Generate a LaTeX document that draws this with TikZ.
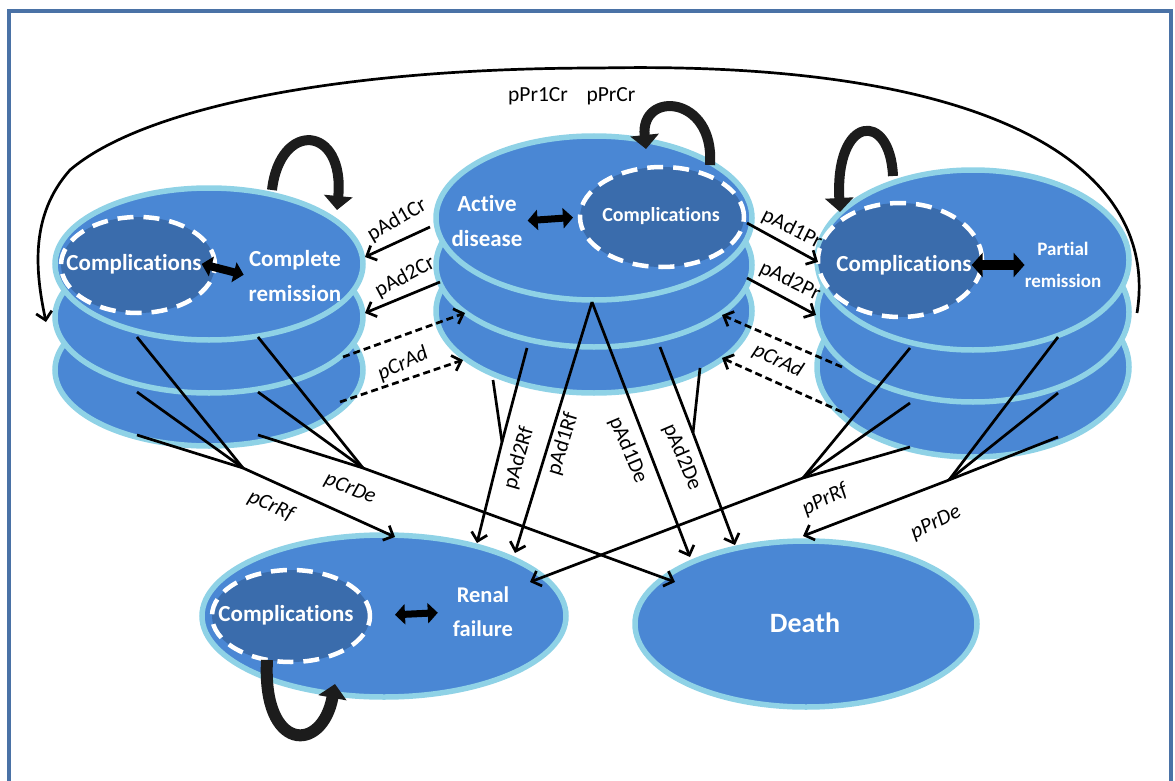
\documentclass[tikz,border=0pt]{standalone}
\usepackage{fontspec}
\setmainfont{Carlito}[Ligatures=NoCommon]
\usetikzlibrary{arrows.meta,shapes.geometric}

\definecolor{framec}{HTML}{4A72A6}
\definecolor{disk}{HTML}{4A87D4}
\definecolor{rim}{HTML}{8FD2E6}
\definecolor{compc}{HTML}{3A6CAC}
\definecolor{loopc}{HTML}{1C1C1C}

\tikzset{
  disklayer/.style={ellipse, draw=rim, fill=disk, line width=5.5pt, inner sep=0pt, outer sep=0pt},
  compl/.style={ellipse, draw=white, fill=compc, line width=4.5pt, dash pattern=on 16pt off 10pt, inner sep=0pt, outer sep=0pt},
  wtxt/.style={text=white, font=\bfseries\fontsize{23}{35}\selectfont, align=center, inner sep=0pt},
  twoway/.style={draw=black, line width=8pt, {Triangle[length=10pt,width=20pt]}-{Triangle[length=10pt,width=20pt]}},
  selfloop/.style={draw=loopc, line width=10pt, -{Triangle[length=14pt,width=28pt]}},
  flow/.style={draw=black, line width=2.7pt, -{Straight Barb[length=8pt,width=16pt]}},
  feed/.style={draw=black, line width=2.7pt},
  retflow/.style={draw=black, line width=2.7pt, dash pattern=on 7pt off 4pt, -{Straight Barb[length=8pt,width=16pt]}},
  lab/.style={font=\fontsize{21.5}{21.5}\selectfont, inner sep=0pt},
  labi/.style={font=\itshape\fontsize{21.5}{21.5}\selectfont, inner sep=0pt},
}

\begin{document}
\begin{tikzpicture}[x=1pt,y=-1pt]
\useasboundingbox (0,0) rectangle (1175,781);

% outer frame
\draw[framec, line width=3.5pt] (9,781) -- (9,11) -- (1171,11) -- (1171,781);

% ---------- Complete remission stack ----------
\node[disklayer, minimum width=308pt, minimum height=152pt] (cr3) at (209,370) {};
\node[disklayer, minimum width=308pt, minimum height=152pt] (cr2) at (209,317) {};
\node[disklayer, minimum width=308pt, minimum height=152pt] (cr1) at (209,264) {};
\node[compl, minimum width=154pt, minimum height=96pt] (crc) at (138,265) {};
\node[wtxt] (crctxt) at (134,264) {Complications};
\node[wtxt] (crtxt) at (295,276) {Complete\\remission};
\draw[twoway, shorten >=5pt] (crctxt.east) -- (crtxt.west);

% ---------- Active disease stack ----------
\node[disklayer, minimum width=316pt, minimum height=164pt] (ad3) at (594,311) {};
\node[disklayer, minimum width=316pt, minimum height=164pt] (ad2) at (594,265) {};
\node[disklayer, minimum width=316pt, minimum height=164pt] (ad1) at (594,218) {};
\node[compl, minimum width=164pt, minimum height=100pt] (adc) at (662,217) {};
\node[wtxt, font=\bfseries\fontsize{20}{20}\selectfont] (adctxt) at (661,216) {Complications};
\node[wtxt] (adtxt) at (487,221) {Active\\disease};
\draw[twoway, line width=7pt, shorten <=5pt, shorten >=7pt] (adtxt.east) -- (adc.west);

% ---------- Partial remission stack ----------
\node[disklayer, minimum width=312pt, minimum height=180pt] (pr3) at (973,367) {};
\node[disklayer, minimum width=312pt, minimum height=180pt] (pr2) at (973,312) {};
\node[disklayer, minimum width=312pt, minimum height=180pt] (pr1) at (973,260) {};
\node[compl, minimum width=164pt, minimum height=114pt] (prc) at (900,260) {};
\node[wtxt] (prctxt) at (904,265) {Complications};
\node[wtxt, font=\bfseries\fontsize{19}{32}\selectfont] (prtxt) at (1063,265) {Partial\\remission};
\draw[twoway, line width=10pt, {Triangle[length=11pt,width=24pt]}-{Triangle[length=11pt,width=24pt]}] (prctxt.east) -- (prtxt.west);

% ---------- Renal failure ----------
\node[disklayer, minimum width=364pt, minimum height=162pt] (rf) at (384,616) {};
\node[compl, minimum width=158pt, minimum height=92pt] (rfc) at (291,616) {};
\node[wtxt] (rfctxt) at (286,615) {Complications};
\node[wtxt, font=\bfseries\fontsize{22.5}{34}\selectfont] (rftxt) at (483,612) {Renal\\failure};
\draw[twoway, line width=7pt, shorten <=25pt, shorten >=15pt] (rfc.east) -- (rftxt.west);

% ---------- Death ----------
\node[disklayer, minimum width=342pt, minimum height=166pt] (de) at (806,624) {};
\node[wtxt, font=\bfseries\fontsize{28}{28}\selectfont] (detxt) at (805,623) {Death};

% ---------- self loops ----------
\coordinate (crL0) at (272,190);  \coordinate (crL1) at (337,210);
\coordinate (adL0) at (710,165);  \coordinate (adL1) at (646,149);
\coordinate (prL0) at (893,176);  \coordinate (prL1) at (840,212);
\coordinate (rfL0) at (267,660);  \coordinate (rfL1) at (335,684);
\draw[selfloop] (crL0) .. controls (280,120) and (345,125) .. (crL1);
\draw[selfloop] (adL0) .. controls (715,95) and (640,90) .. (adL1);
\draw[selfloop] (prL0) .. controls (890,110) and (835,115) .. (prL1);
\draw[selfloop, line width=12pt] (rfL0) .. controls (262,752) and (322,754) .. (rfL1);

% ---------- long return arc Partial remission -> Complete remission ----------
\coordinate (prArc) at (1137,313);
\coordinate (crArc) at (46,322);
\draw[flow] (prArc) .. controls (1160,170) and (1000,60) .. (600,68)
  .. controls (330,68) and (140,110) .. (70,170)
  .. controls (30,215) and (35,270) .. (crArc);
\node[lab] (lPr1Cr) at (538,96) {pPr1Cr};
\node[lab] (lPrCr) at (611,96) {pPrCr};

% ---------- Active disease -> Complete remission ----------
\coordinate (adS1) at (430,227); \coordinate (crT1) at (365,257);
\coordinate (adS2) at (440,282); \coordinate (crT2) at (365,313);
\draw[flow] (adS1) -- (crT1);
\draw[flow] (adS2) -- (crT2);
\node[lab, rotate=30] (lAd1Cr) at (397,220) {pAd1Cr};
\node[lab, rotate=28] (lAd2Cr) at (405,277) {pAd2Cr};

% ---------- Complete remission -> Active disease (dashed) ----------
\coordinate (crD1) at (343,357); \coordinate (adT1) at (465,313);
\coordinate (crD2) at (340,402); \coordinate (adT2) at (463,360);
\draw[retflow] (crD1) -- (adT1);
\draw[retflow] (crD2) -- (adT2);
\node[labi, rotate=25] (lCrAdL) at (403,364) {pCrAd};

% ---------- Active disease -> Partial remission ----------
\coordinate (adS3) at (747,223); \coordinate (prT1) at (818,262);
\coordinate (adS4) at (747,278); \coordinate (prT2) at (816,315);
\draw[flow] (adS3) -- (prT1);
\draw[flow] (adS4) -- (prT2);
\node[lab, rotate=-27] (lAd1Pr) at (792,229) {pAd1Pr};
\node[lab, rotate=-26] (lAd2Pr) at (790,281) {pAd2Pr};

% ---------- Partial remission -> Active disease (dashed) ----------
\coordinate (prD1) at (842,367); \coordinate (adT3) at (722,315);
\coordinate (prD2) at (842,412); \coordinate (adT4) at (722,358);
\draw[retflow] (prD1) -- (adT3);
\draw[retflow] (prD2) -- (adT4);
\node[labi, rotate=-26] (lCrAdR) at (778,361) {pCrAd};

% ---------- Complete remission -> Renal failure / Death ----------
\coordinate (crA1) at (137,337); \coordinate (crA2) at (137,392); \coordinate (crA3) at (137,435);
\coordinate (crB1) at (258,337); \coordinate (crB2) at (258,392); \coordinate (crB3) at (258,435);
\coordinate (crJ1) at (243,468); \coordinate (crJ2) at (363,468);
\coordinate (rfT1) at (395,537); \coordinate (deT1) at (675,582);
\draw[feed] (crA1) -- (crJ1);
\draw[feed] (crA2) -- (crJ1);
\draw[feed] (crA3) -- (crJ1);
\draw[feed] (crB1) -- (crJ2);
\draw[feed] (crB2) -- (crJ2);
\draw[feed] (crB3) -- (crJ2);
\draw[flow] (crJ1) -- (rfT1);
\draw[flow] (crJ2) -- (deT1);
\node[labi, rotate=-24] (lCrRf) at (271,506) {pCrRf};
\node[labi, rotate=-22] (lCrDe) at (350,489) {pCrDe};

% ---------- Active disease -> Renal failure / Death ----------
\coordinate (adA) at (493,380); \coordinate (adB) at (527,348);
\coordinate (adC) at (592,302);
\coordinate (adD) at (660,347); \coordinate (adE) at (700,368);
\coordinate (adJ1) at (502,442); \coordinate (adJ2) at (693,433);
\coordinate (rfT2) at (477,543); \coordinate (rfT3) at (515,553);
\coordinate (deT2) at (690,557); \coordinate (deT3) at (735,545);
\draw[feed] (adA) -- (adJ1);
\draw[feed] (adB) -- (adJ1);
\draw[flow] (adJ1) -- (rfT2);
\draw[flow] (adC) -- (rfT3);
\draw[flow] (adC) -- (deT2);
\draw[feed] (adD) -- (adJ2);
\draw[feed] (adE) -- (adJ2);
\draw[flow] (adJ2) -- (deT3);
\node[lab, rotate=74] (lAd2Rf) at (519,458) {pAd2Rf};
\node[lab, rotate=73] (lAd1Rf) at (563,444) {pAd1Rf};
\node[lab, rotate=-67] (lAd1De) at (628,450) {pAd1De};
\node[lab, rotate=-67] (lAd2De) at (682,457) {pAd2De};

% ---------- Partial remission -> Renal failure / Death ----------
\coordinate (prA1) at (910,348); \coordinate (prA2) at (910,403); \coordinate (prA3) at (910,447);
\coordinate (prB1) at (1058,337); \coordinate (prB2) at (1058,393); \coordinate (prB3) at (1058,437);
\coordinate (prJ1) at (803,478); \coordinate (prJ2) at (949,480);
\coordinate (rfT4) at (530,582); \coordinate (deT4) at (803,536);
\draw[feed] (prA1) -- (prJ1);
\draw[feed] (prA2) -- (prJ1);
\draw[feed] (prA3) -- (prJ1);
\draw[feed] (prB1) -- (prJ2);
\draw[feed] (prB2) -- (prJ2);
\draw[feed] (prB3) -- (prJ2);
\draw[flow] (prJ1) -- (rfT4);
\draw[flow] (prJ2) -- (deT4);
\node[labi, rotate=26] (lPrRf) at (825,500) {pPrRf};
\node[labi, rotate=26] (lPrDe) at (936,523) {pPrDe};
\end{tikzpicture}
\end{document}
